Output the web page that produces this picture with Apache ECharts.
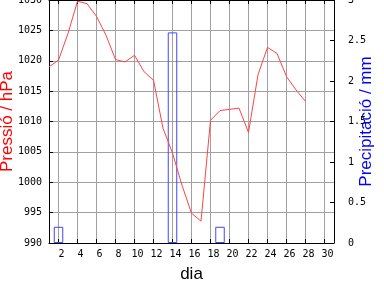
<!DOCTYPE html>
<html><head><meta charset="utf-8">
<script src="https://cdn.jsdelivr.net/npm/echarts@6/dist/echarts.min.js"></script>
<style>html,body{margin:0;padding:0;background:#fff}#c{width:384px;height:288px}</style>
</head><body><div id="c"></div>
<script>
const days = [1,2,3,4,5,6,7,8,9,10,11,12,13,14,15,16,17,18,19,20,21,22,23,24,25,26,27,28];
const pressure = [1019.0,1020.1,1024.5,1029.8,1029.4,1027.3,1024.2,1020.2,1019.8,1020.9,1018.2,1016.8,1008.9,1004.8,999.5,994.9,993.6,1010.2,1011.8,1012.0,1012.2,1008.2,1017.7,1022.2,1021.2,1017.4,1015.2,1013.3];
const rainDays = [2,14,19];
const rain = [0.2,2.6,0.2];
const xTicks = [2,4,6,8,10,12,14,16,18,20,22,24,26,28,30];

const mono = 'DejaVu Sans Mono';
const chart = echarts.init(document.getElementById('c'));
chart.setOption({
  animation:false,
  backgroundColor:'#fff',
  grid:{left:49,right:50,top:0,bottom:45,containLabel:false,outerBoundsMode:'none'},
  xAxis:[{
    type:'value',min:1,max:31,
    name:'dia',nameLocation:'middle',nameGap:23,nameMoveOverlap:false,
    nameTextStyle:{color:'#000',fontSize:17,fontFamily:'Liberation Sans',verticalAlign:'top'},
    axisLine:{show:true,lineStyle:{color:'#000',width:1}},
    axisTick:{show:true,inside:true,length:4,customValues:xTicks,lineStyle:{color:'#000'}},
    axisLabel:{customValues:xTicks,color:'#000',fontFamily:mono,fontSize:10,margin:6,padding:[0,0,0,6]},
    splitLine:{show:true,lineStyle:{color:'#a0a0a0',width:1}}
  },{
    type:'value',min:1,max:31,position:'top',
    axisLine:{show:true,lineStyle:{color:'#000'}},
    axisTick:{show:true,inside:true,length:4,customValues:xTicks,lineStyle:{color:'#000'}},
    axisLabel:{show:false},splitLine:{show:false}
  }],
  yAxis:[{
    type:'value',min:990,max:1030,interval:5,
    name:'Pressió / hPa',nameLocation:'middle',nameGap:33,nameRotate:90,nameMoveOverlap:false,
    nameTextStyle:{color:'#ff0000',fontSize:17,fontFamily:'Liberation Sans'},
    axisLine:{show:true,lineStyle:{color:'#000'}},
    axisTick:{show:true,inside:true,length:4,lineStyle:{color:'#000'}},
    axisLabel:{color:'#000',fontFamily:mono,fontSize:10,margin:7,formatter:v=>String(v)},
    splitLine:{show:true,lineStyle:{color:'#a0a0a0',width:1}}
  },{
    type:'value',min:0,max:3,interval:0.5,position:'right',
    name:'Precipitació / mm',nameLocation:'middle',nameGap:24,nameRotate:90,nameMoveOverlap:false,
    nameTextStyle:{color:'#0000ff',fontSize:17,fontFamily:'Liberation Sans'},
    axisLine:{show:true,lineStyle:{color:'#000'}},
    axisTick:{show:true,inside:true,length:4,lineStyle:{color:'#000'}},
    axisLabel:{color:'#000',fontFamily:mono,fontSize:10,margin:14,formatter:v=>String(v)},
    splitLine:{show:false}
  }],
  series:[{
    type:'bar',xAxisIndex:0,yAxisIndex:1,barWidth:9.5,z:2,
    data:rainDays.map((d,i)=>[d,rain[i]]),
    itemStyle:{color:'rgba(0,0,0,0)',borderColor:'#4444ff',borderWidth:1}
  },{
    type:'line',xAxisIndex:0,yAxisIndex:0,z:3,symbol:'none',
    data:days.map((d,i)=>[d,pressure[i]]),
    lineStyle:{color:'#ff4444',width:1}
  }]
});
</script></body></html>
